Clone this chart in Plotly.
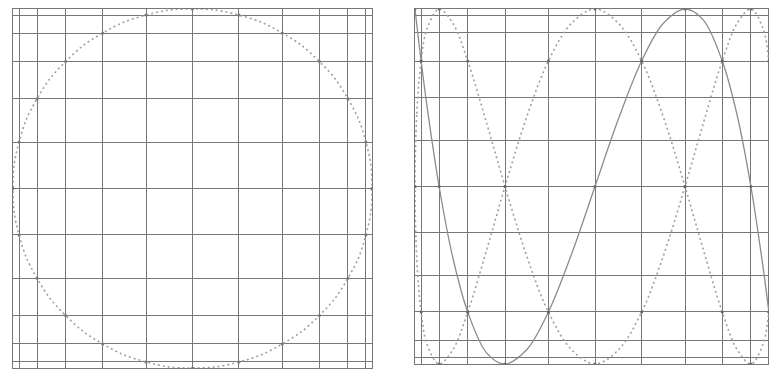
import plotly.graph_objects as go

# Grid node positions (Chebyshev-like spacing)
grid_nodes = [-1.0, -0.966, -0.866, -0.707, -0.5, -0.259, 0.0,
              0.259, 0.5, 0.707, 0.866, 0.966, 1.0]

# Left panel: dotted circle through grid intersections
circle_x = [1.0, 0.966, 0.866, 0.707, 0.5, 0.259, 0.0, -0.259, -0.5, -0.707, -0.866, -0.966,
            -1.0, -0.966, -0.866, -0.707, -0.5, -0.259, 0.0, 0.259, 0.5, 0.707, 0.866, 0.966, 1.0]
circle_y = [0.0, 0.259, 0.5, 0.707, 0.866, 0.966, 1.0, 0.966, 0.866, 0.707, 0.5, 0.259,
            0.0, -0.259, -0.5, -0.707, -0.866, -0.966, -1.0, -0.966, -0.866, -0.707, -0.5, -0.259, 0.0]

# Right panel: positions along x where curves were read
curve_x = [-1.0, -0.99, -0.966, -0.933, -0.866, -0.79, -0.707, -0.6, -0.5, -0.38, -0.259, -0.13, 0.0,
           0.13, 0.259, 0.38, 0.5, 0.6, 0.707, 0.79, 0.866, 0.933, 0.966, 0.99, 1.0]

# Solid curve values
solid_y = [1.0, 0.91, 0.707, 0.45, 0.0, -0.40, -0.707, -0.94, -1.0, -0.92, -0.707, -0.38, 0.0,
           0.38, 0.707, 0.92, 1.0, 0.94, 0.707, 0.40, 0.0, -0.45, -0.707, -0.91, -1.0]

# Dashed curve: upper branch values (lower branch is its mirror)
dashed_upper_y = [0.0, 0.41, 0.707, 0.89, 1.0, 0.92, 0.707, 0.35, 0.0, -0.39, -0.707, -0.92, -1.0,
                  -0.92, -0.707, -0.39, 0.0, 0.35, 0.707, 0.92, 1.0, 0.89, 0.707, 0.41, 0.0]
dashed_lower_y = [-v for v in dashed_upper_y]

# Highlighted intersection nodes on the right panel
node_x = [-1.0, -0.966, -0.866, -0.707, -0.5, -0.259, 0.0, 0.259, 0.5, 0.707, 0.866, 0.966, 1.0]
solid_node_y = [1.0, 0.707, 0.0, -0.707, -1.0, -0.707, 0.0, 0.707, 1.0, 0.707, 0.0, -0.707, -1.0]
dashed_node_y = [0.0, 0.707, 1.0, 0.707, 0.0, -0.707, -1.0, -0.707, 0.0, 0.707, 1.0, 0.707, 0.0]

W, H = 777, 371
OFF = 8  # page body margin offset
GRID = "#777777"
CURVE = "#a0a0a0"
DASH = "2px,3px"

fig = go.Figure()

fig.add_trace(go.Scatter(x=circle_x, y=circle_y, mode="lines+markers",
                         line=dict(color=CURVE, width=1.6, dash=DASH, shape="spline", smoothing=1.3),
                         marker=dict(size=3, color="#777"),
                         xaxis="x", yaxis="y", showlegend=False, hoverinfo="skip"))

dx = curve_x + curve_x[::-1]
dy = dashed_upper_y + dashed_lower_y[::-1]
fig.add_trace(go.Scatter(x=dx, y=dy, mode="lines",
                         line=dict(color=CURVE, width=1.6, dash=DASH, shape="spline", smoothing=1.0),
                         xaxis="x2", yaxis="y2", showlegend=False, hoverinfo="skip"))

fig.add_trace(go.Scatter(x=curve_x, y=solid_y, mode="lines",
                         line=dict(color="#8c8c8c", width=1.3, shape="spline", smoothing=1.0),
                         xaxis="x2", yaxis="y2", showlegend=False, hoverinfo="skip"))

fig.add_trace(go.Scatter(x=node_x + node_x + node_x,
                         y=solid_node_y + dashed_node_y + [-v for v in dashed_node_y],
                         mode="markers", marker=dict(size=3, color="#666"),
                         xaxis="x2", yaxis="y2", showlegend=False, hoverinfo="skip"))

def ax(domain, anchor):
    return dict(domain=domain, anchor=anchor, range=[-1, 1], tickvals=grid_nodes,
                showticklabels=False, ticks="", showgrid=True, gridcolor=GRID, gridwidth=1.2,
                zeroline=False, showline=True, linecolor=GRID, linewidth=1.2, mirror=True,
                fixedrange=True)

def xd(a, b):
    return [(a - OFF) / W, (b - OFF) / W]

def yd(top, bottom):
    return [1 - (bottom - OFF) / H, 1 - (top - OFF) / H]

fig.update_layout(
    width=W, height=H, margin=dict(l=0, r=0, t=0, b=0),
    paper_bgcolor="white", plot_bgcolor="white",
    xaxis=ax(xd(13, 372), "y"),
    yaxis=ax(yd(9, 368), "x"),
    xaxis2=ax(xd(415, 775), "y2"),
    yaxis2=ax(yd(9, 364), "x2"),
)

fig.write_html("out.html")
